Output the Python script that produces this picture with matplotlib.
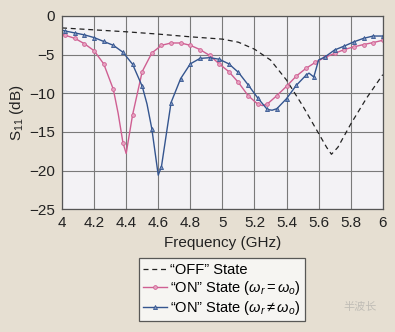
import matplotlib.pyplot as plt

# S11 of the "OFF" state (dashed, no markers)
off_f = [4.0, 4.2, 4.4, 4.6, 4.8, 5.0, 5.1, 5.2, 5.3, 5.4, 5.5, 5.6, 5.65, 5.68, 5.72, 5.8, 5.9, 6.0]
off_s = [-1.55, -1.8, -2.05, -2.35, -2.7, -3.0, -3.4, -4.3, -5.7, -8.3, -11.6, -15.2, -17.0, -17.9, -17.0, -14.0, -10.6, -7.6]

# "ON" state, wr = wo
eq_f = [4.00, 4.02, 4.08, 4.14, 4.20, 4.26, 4.32, 4.35, 4.38, 4.40, 4.44, 4.50, 4.56, 4.62, 4.68, 4.74,
        4.80, 4.86, 4.92, 4.98, 5.04, 5.10, 5.16, 5.22, 5.25, 5.28, 5.34, 5.40, 5.46, 5.52, 5.58, 5.64,
        5.70, 5.76, 5.82, 5.88, 5.94, 6.00]
eq_s = [-2.35, -2.5, -2.9, -3.6, -4.5, -6.2, -9.5, -12.6, -16.4, -17.8, -12.8, -7.2, -4.8, -3.8, -3.5, -3.5,
        -3.8, -4.35, -5.1, -6.2, -7.2, -8.6, -10.3, -11.4, -11.6, -11.4, -10.3, -9.1, -7.8, -6.8, -6.0, -5.35,
        -4.85, -4.35, -4.0, -3.7, -3.45, -3.15]
eq_marks = [1, 2, 3, 4, 5, 6, 8, 10, 11, 12, 13, 14, 15, 16, 17, 18, 19, 20, 21, 22, 23, 25, 26, 27,
            28, 29, 30, 31, 32, 33, 34, 35, 36, 37]

# "ON" state, wr != wo
ne_f = [4.00, 4.02, 4.08, 4.14, 4.20, 4.26, 4.32, 4.38, 4.44, 4.50, 4.53, 4.56, 4.60, 4.62, 4.68, 4.74,
        4.80, 4.86, 4.92, 4.98, 5.04, 5.10, 5.16, 5.22, 5.28, 5.31, 5.34, 5.40, 5.46, 5.52, 5.54, 5.57,
        5.60, 5.64, 5.70, 5.76, 5.82, 5.88, 5.94, 6.00]
ne_s = [-1.85, -1.95, -2.2, -2.45, -2.8, -3.3, -3.8, -4.7, -6.25, -9.1, -11.4, -14.6, -20.6, -19.5, -11.2, -8.1,
        -6.2, -5.5, -5.4, -5.6, -6.2, -7.3, -8.9, -10.6, -12.1, -12.2, -12.0, -10.7, -9.0, -7.7, -7.4, -7.9,
        -5.7, -5.3, -4.4, -3.9, -3.35, -2.9, -2.6, -2.6]
ne_marks = [1, 2, 3, 4, 5, 6, 7, 8, 9, 11, 13, 14, 15, 16, 17, 18, 19, 20, 21, 22, 23, 24, 26, 27,
            28, 29, 31, 33, 34, 35, 36, 37, 38, 39]

x_ticks = [4, 4.2, 4.4, 4.6, 4.8, 5, 5.2, 5.4, 5.6, 5.8, 6]
x_labels = ['4', '4.2', '4.4', '4.6', '4.8', '5', '5.2', '5.4', '5.6', '5.8', '6']
y_ticks = [0, -5, -10, -15, -20, -25]

plt.rcParams['font.family'] = ['Liberation Sans', 'DejaVu Sans']
plt.rcParams['mathtext.fontset'] = 'custom'
plt.rcParams['mathtext.it'] = 'Liberation Sans:italic'
plt.rcParams['mathtext.rm'] = 'Liberation Sans'

fig = plt.figure(figsize=(3.95, 3.32), dpi=100, facecolor='#e6dfd2')
ax = fig.add_axes([0.157, 0.370, 0.812, 0.582])
ax.set_facecolor('#f3f2f5')

pink = '#cf5f92'
blue = '#34558f'

ax.plot(off_f, off_s, color='#222222', lw=0.9, ls=(0, (4, 3)), label='\u201cOFF\u201d State')
ax.plot(eq_f, eq_s, color=pink, lw=1.0, marker='o', ms=2.7, mfc='#e7a4c2', mec=pink, mew=0.6,
        markevery=eq_marks, label='\u201cON\u201d State ($\\omega_r = \\omega_o$)')
ax.plot(ne_f, ne_s, color=blue, lw=1.0, marker='^', ms=2.9, mfc='#7d93bf', mec=blue, mew=0.6,
        markevery=ne_marks, label='\u201cON\u201d State ($\\omega_r \\neq \\omega_o$)')

ax.set_xlim(4, 6)
ax.set_ylim(-25, 0)
ax.set_xticks(x_ticks)
ax.set_xticklabels(x_labels)
ax.set_yticks(y_ticks)
ax.set_yticklabels(['0' if v == 0 else '\u2212%d' % -v for v in y_ticks])
ax.tick_params(length=0, labelsize=11, pad=5, colors='#222222')
ax.grid(True, color='#7a7a7a', lw=0.8)
ax.set_axisbelow(True)
for sp in ax.spines.values():
    sp.set_color('#555555')
    sp.set_linewidth(0.9)

ax.set_xlabel('Frequency (GHz)', fontsize=11, labelpad=4, color='#222222')
ax.set_ylabel('S$_{11}$ (dB)', fontsize=11, labelpad=2, color='#222222')

leg = fig.legend(loc='upper left', bbox_to_anchor=(0.352, 0.222), fontsize=10.5, frameon=True,
                 fancybox=False, handlelength=1.6, handletextpad=0.2, borderpad=0.3,
                 labelspacing=0.15, borderaxespad=0)
leg.get_frame().set_edgecolor('#333333')
leg.get_frame().set_linewidth(0.9)
leg.get_frame().set_facecolor('#fbfbfb')

fig.text(0.955, 0.075, '半波长', fontsize=8, color='#c0bdb6', ha='right', va='center',
         family=['Noto Sans CJK SC', 'DejaVu Sans'])

fig.savefig('out.png', dpi=100, facecolor=fig.get_facecolor())
